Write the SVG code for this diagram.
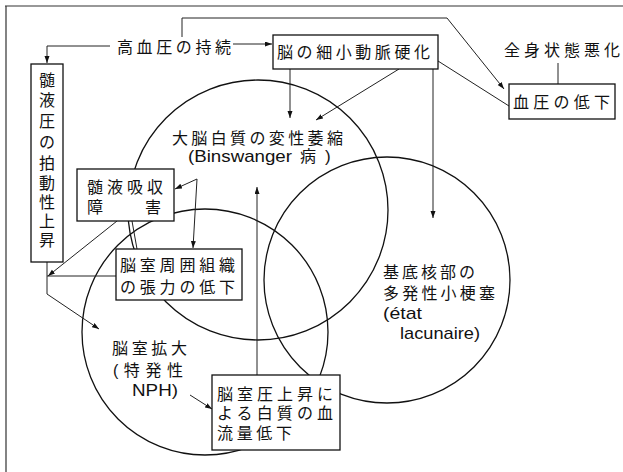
<svg xmlns="http://www.w3.org/2000/svg" width="623" height="472" viewBox="0 0 623 472">
<style>
text{font-family:"Liberation Sans","Noto Sans CJK JP",sans-serif;font-size:16px;fill:#111}
.lat{font-size:17px}
.c{fill:none;stroke:#111;stroke-width:1.3}
.b{fill:#fff;stroke:#111;stroke-width:1.3}
.l{fill:none;stroke:#222;stroke-width:1}
.v{text-anchor:middle}
</style>
<defs>
<marker id="ah" markerUnits="userSpaceOnUse" markerWidth="8" markerHeight="6" refX="7" refY="2.5" orient="auto">
<path d="M0,0 L7,2.5 L0,5 z" fill="#111"/>
</marker>
</defs>
<rect width="623" height="472" fill="#fff"/>
<g id="frame"><path d="M5,6 H623 M6,6 V472" fill="none" stroke="#333" stroke-width="1.2"/></g>

<g id="circle-binswanger">
<circle class="c" cx="258" cy="210" r="130"/>
<text x="172" y="144" textLength="171" lengthAdjust="spacing">大脳白質の変性萎縮</text>
<text class="lat" x="188" y="162" textLength="104" lengthAdjust="spacingAndGlyphs">(Binswanger</text>
<text x="300" y="162">病</text>
<text class="lat" x="325" y="162">)</text>
</g>
<g id="circle-lacunaire">
<circle class="c" cx="387" cy="280" r="123"/>
<text x="383" y="278" textLength="92" lengthAdjust="spacing">基底核部の</text>
<text x="383" y="299" textLength="112" lengthAdjust="spacing">多発性小梗塞</text>
<text class="lat" x="383" y="319" textLength="39" lengthAdjust="spacingAndGlyphs">(état</text>
<text class="lat" x="400" y="339" textLength="80" lengthAdjust="spacingAndGlyphs">lacunaire)</text>
</g>
<g id="circle-nph">
<circle class="c" cx="205" cy="332" r="123"/>
<text x="112" y="354" textLength="75" lengthAdjust="spacing">脳室拡大</text>
<text x="113" y="376" textLength="70" lengthAdjust="spacing">(特発性</text>
<text class="lat" x="132" y="396" textLength="46" lengthAdjust="spacingAndGlyphs">NPH)</text>
</g>

<g id="connectors">
<path class="l" d="M110,46 H47 V63" marker-end="url(#ah)"/>
<path class="l" d="M233,44 H272" marker-end="url(#ah)"/>
<path class="l" d="M182,37 V18 H447 L504,89" marker-end="url(#ah)"/>
<path class="l" d="M438,61 L509,106"/>
<path class="l" d="M558,63 V84"/>
<path class="l" d="M290,69 V118" marker-end="url(#ah)"/>
<path class="l" d="M399,69 L316,120" marker-end="url(#ah)"/>
<path class="l" d="M433,69 V218" marker-end="url(#ah)"/>
<path class="l" d="M197,179 L175,189" marker-end="url(#ah)"/>
<path class="l" d="M197,179 L193,248" marker-end="url(#ah)"/>
<path class="l" d="M117,221 L48,276" marker-end="url(#ah)"/>
<path class="l" d="M132,221 L137,249"/>
<path class="l" d="M47,262 V294 L99,329" marker-end="url(#ah)"/>
<path class="l" d="M47,276 H116"/>
<path class="l" d="M257,375 V187" marker-end="url(#ah)"/>
<path class="l" d="M190,395 L212,409" marker-end="url(#ah)"/>
</g>

<g id="hypertension">
<text x="117" y="53" textLength="114" lengthAdjust="spacing">高血圧の持続</text>
</g>
<g id="arteriosclerosis">
<rect class="b" x="273" y="35" width="165" height="34"/>
<text x="277" y="58" textLength="153" lengthAdjust="spacing">脳の細小動脈硬化</text>
</g>
<g id="general-condition">
<text x="504" y="56" textLength="116" lengthAdjust="spacing">全身状態悪化</text>
</g>
<g id="bp-drop">
<rect class="b" x="509" y="84" width="106" height="35"/>
<text x="513" y="108" textLength="97" lengthAdjust="spacing">血圧の低下</text>
</g>
<g id="csf-pulse">
<rect class="b" x="31" y="64" width="32" height="198"/>
<text class="v" x="47" y="86">髄</text>
<text class="v" x="47" y="106">液</text>
<text class="v" x="47" y="127">圧</text>
<text class="v" x="47" y="148">の</text>
<text class="v" x="47" y="169">拍</text>
<text class="v" x="47" y="189">動</text>
<text class="v" x="47" y="208">性</text>
<text class="v" x="47" y="227">上</text>
<text class="v" x="47" y="246">昇</text>
</g>
<g id="csf-absorption">
<rect class="b" x="77" y="169" width="97" height="52"/>
<text x="87" y="193" textLength="76" lengthAdjust="spacing">髄液吸収</text>
<text x="87" y="213">障</text>
<text x="145" y="213">害</text>
</g>
<g id="periventricular">
<rect class="b" x="116" y="249" width="126" height="51"/>
<text x="120" y="271" textLength="115" lengthAdjust="spacing">脳室周囲組織</text>
<text x="120" y="293" textLength="115" lengthAdjust="spacing">の張力の低下</text>
</g>
<g id="blood-flow">
<rect class="b" x="212" y="375" width="128" height="75"/>
<text x="217" y="400" textLength="116" lengthAdjust="spacing">脳室圧上昇に</text>
<text x="217" y="419" textLength="116" lengthAdjust="spacing">よる白質の血</text>
<text x="217" y="439" textLength="75" lengthAdjust="spacing">流量低下</text>
</g>
</svg>
